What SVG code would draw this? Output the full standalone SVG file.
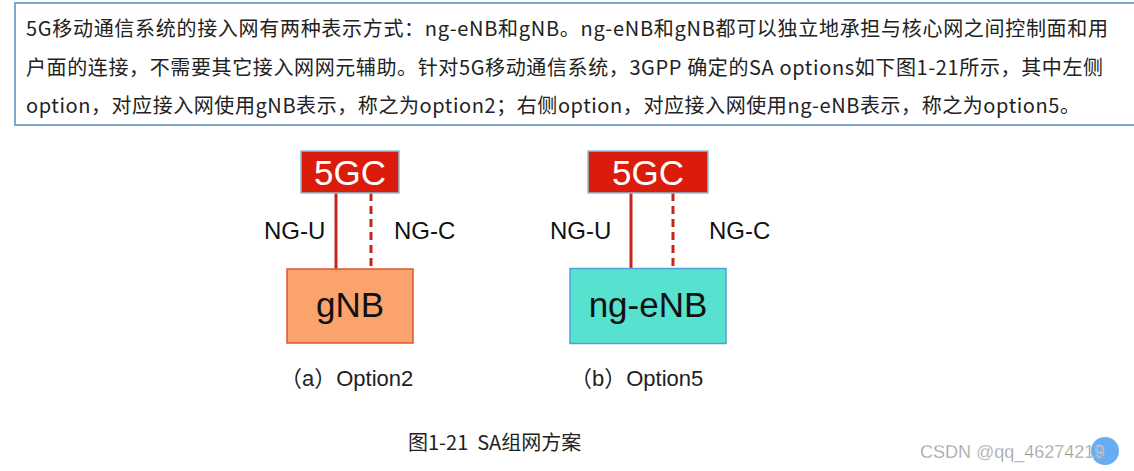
<svg xmlns="http://www.w3.org/2000/svg" width="1134" height="471" viewBox="0 0 1134 471">
<style>
.para{font-family:"Noto Sans CJK SC","Noto Sans",sans-serif;font-size:20px;fill:#222}
.core{fill:#db1b0b;stroke:#86c3dd;stroke-width:1.5}
.coretxt{font-family:"Liberation Sans",Arial,sans-serif;font-size:35px;fill:#fff;text-anchor:middle}
.lbl{font-family:"Liberation Sans",Arial,sans-serif;font-size:24px;fill:#111}
.ntxt{font-family:"Liberation Sans",Arial,sans-serif;font-size:35px;fill:#111;text-anchor:middle}
.opt{font-family:"Liberation Sans","Noto Sans CJK SC",sans-serif;font-size:22px;fill:#222}
.solid{stroke:#c4261c;stroke-width:3;fill:none}
.dash{stroke:#c4261c;stroke-width:3;fill:none;stroke-dasharray:8 5}
</style>
<rect width="1134" height="471" fill="#fff"/>
<g id="textbox">
<rect x="15" y="3" width="1125" height="122" fill="#fff" stroke="#7ea6cf" stroke-width="2"/>
<text class="para" x="26" y="36" textLength="1082" lengthAdjust="spacing">5G移动通信系统的接入网有两种表示方式：ng-eNB和gNB。ng-eNB和gNB都可以独立地承担与核心网之间控制面和用</text>
<text class="para" x="26" y="75" textLength="1077" lengthAdjust="spacing">户面的连接，不需要其它接入网网元辅助。针对5G移动通信系统，3GPP 确定的SA options如下图1-21所示，其中左侧</text>
<text class="para" x="26" y="113" textLength="1054" lengthAdjust="spacing">option，对应接入网使用gNB表示，称之为option2；右侧option，对应接入网使用ng-eNB表示，称之为option5。</text>
</g>
<g id="connectors">
<line class="solid" x1="336" y1="193" x2="336" y2="269"/>
<line class="dash" x1="371" y1="193" x2="371" y2="268"/>
<line class="solid" x1="631" y1="193" x2="631" y2="269"/>
<line class="dash" x1="673" y1="193" x2="673" y2="268"/>
</g>
<g id="core-a">
<rect class="core" x="301" y="151" width="98" height="42"/>
<text class="coretxt" x="350" y="185">5GC</text>
</g>
<g id="core-b">
<rect class="core" x="588" y="151" width="120" height="42"/>
<text class="coretxt" x="648" y="185">5GC</text>
</g>
<g id="labels">
<text class="lbl" x="264" y="239">NG-U</text>
<text class="lbl" x="394" y="239">NG-C</text>
<text class="lbl" x="550" y="239">NG-U</text>
<text class="lbl" x="709" y="239">NG-C</text>
</g>
<g id="gnb">
<rect x="287" y="269" width="126" height="74" fill="#fba36d" stroke="#de5630" stroke-width="1.5"/>
<text class="ntxt" x="350" y="317">gNB</text>
</g>
<g id="ngenb">
<rect x="570" y="268.5" width="156" height="75" fill="#56e2cf" stroke="#4ea2dc" stroke-width="1.5"/>
<text class="ntxt" x="648" y="317">ng-eNB</text>
</g>
<g id="captions">
<text class="opt" x="280" y="386">（a）Option2</text>
<text class="opt" x="570" y="386">（b）Option5</text>
<text class="para" x="408" y="450" xml:space="preserve">图1-21  SA组网方案</text>
</g>
<g id="watermark">
<circle cx="1105" cy="451" r="14" fill="#4d9ef0" opacity="0.85"/>
<text x="920" y="458" font-family="Liberation Sans,Arial,sans-serif" font-size="18" fill="#9a9a9a" stroke="#fff" stroke-width="0.3">CSDN @qq_46274219</text>
</g>
</svg>
